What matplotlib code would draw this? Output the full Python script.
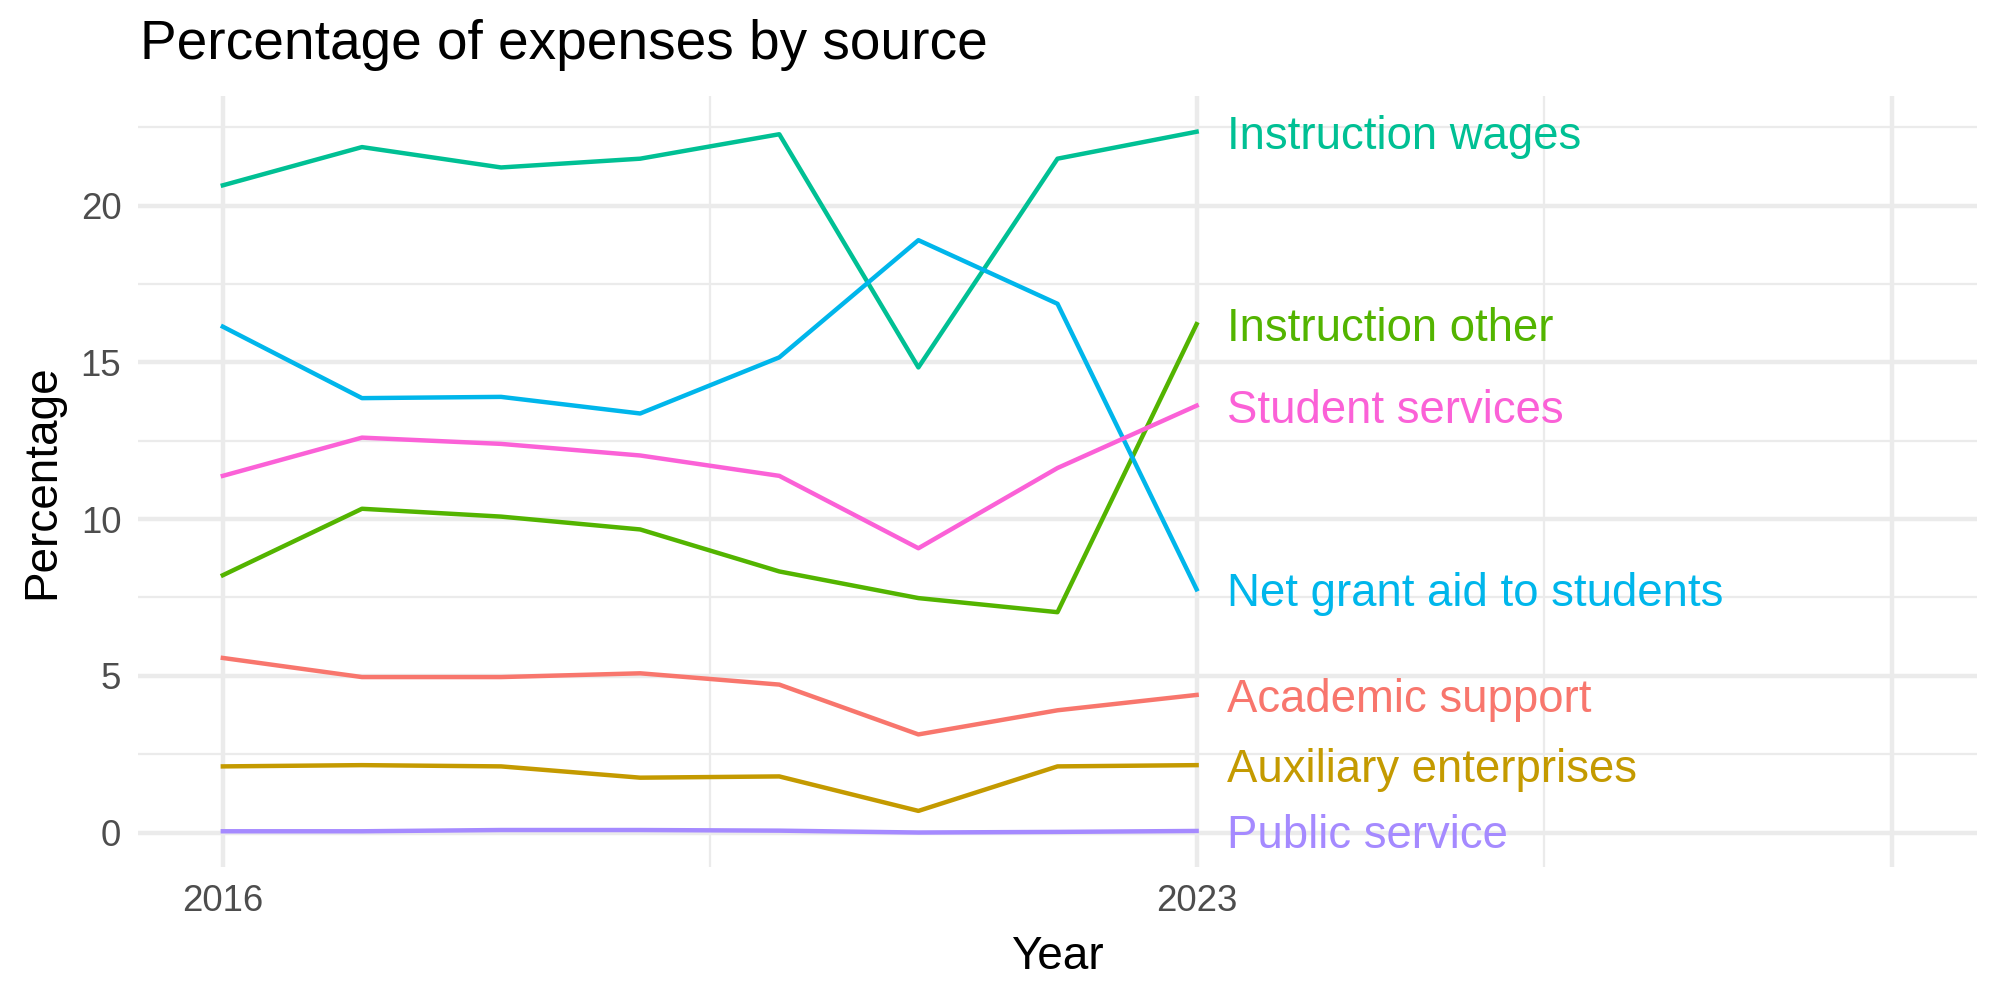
import numpy as np
import matplotlib.pyplot as plt

plt.rcParams['font.family'] = ['Liberation Sans', 'DejaVu Sans']

years = [2016, 2017, 2018, 2019, 2020, 2021, 2022, 2023]

sources = ["Academic support", "Auxiliary enterprises", "Instruction other",
           "Instruction wages", "Net grant aid to students", "Public service",
           "Student services"]

academic_support = [5.57, 4.96, 4.96, 5.08, 4.72, 3.13, 3.90, 4.39]
auxiliary_enterprises = [2.11, 2.15, 2.11, 1.75, 1.79, 0.69, 2.11, 2.15]
instruction_other = [8.21, 10.33, 10.08, 9.67, 8.33, 7.48, 7.03, 16.22]
instruction_wages = [20.65, 21.87, 21.22, 21.50, 22.28, 14.84, 21.50, 22.36]
net_grant_aid = [16.14, 13.86, 13.90, 13.37, 15.16, 18.90, 16.87, 7.76]
public_service = [0.04, 0.04, 0.08, 0.08, 0.06, 0.00, 0.02, 0.05]
student_services = [11.38, 12.60, 12.40, 12.03, 11.38, 9.07, 11.63, 13.62]

series = [academic_support, auxiliary_enterprises, instruction_other,
          instruction_wages, net_grant_aid, public_service, student_services]

# ggplot hue palette for 7 groups
colours = ["#F8766D", "#C49A00", "#53B400", "#00C094", "#00B6EB", "#A58AFF", "#FB61D7"]

x_breaks = [2016, 2023, 2028]
x_labels = ["2016", "2023", ""]

fig = plt.figure(figsize=(10, 5), dpi=200)
ax = fig.add_axes([0.069, 0.133, 0.9195, 0.771])

grid_col = "#EBEBEB"
for xb in x_breaks:
    ax.axvline(xb, color=grid_col, lw=1.6, zorder=0)
for xm in [2019.5, 2025.5]:
    ax.axvline(xm, color=grid_col, lw=0.8, zorder=0)
for yb in [0, 5, 10, 15, 20]:
    ax.axhline(yb, color=grid_col, lw=1.6, zorder=0)
for ym in [2.5, 7.5, 12.5, 17.5, 22.5]:
    ax.axhline(ym, color=grid_col, lw=0.8, zorder=0)

for name, vals, col in zip(sources, series, colours):
    ax.plot(years, vals, color=col, lw=1.6, zorder=2)
    ax.text(years[-1] + 0.22, vals[-1], name, color=col, fontsize=16.4,
            ha="left", va="center_baseline", zorder=3)

ax.set_xlim(2015.39, 2028.61)
ax.set_ylim(-1.1, 23.5)
ax.set_xticks(x_breaks)
ax.set_xticklabels(x_labels)
ax.set_yticks([0, 5, 10, 15, 20])
ax.tick_params(length=0, labelsize=13.2, labelcolor="#4D4D4D", pad=6)
for s in ax.spines.values():
    s.set_visible(False)

ax.set_xlabel("Year", fontsize=16.5, labelpad=6)
ax.set_ylabel("Percentage", fontsize=16.5, labelpad=6)
fig.text(0.07, 0.955, "Percentage of expenses by source", fontsize=19.8,
         ha="left", va="center")

fig.savefig("out.png", dpi=200, facecolor="white")
